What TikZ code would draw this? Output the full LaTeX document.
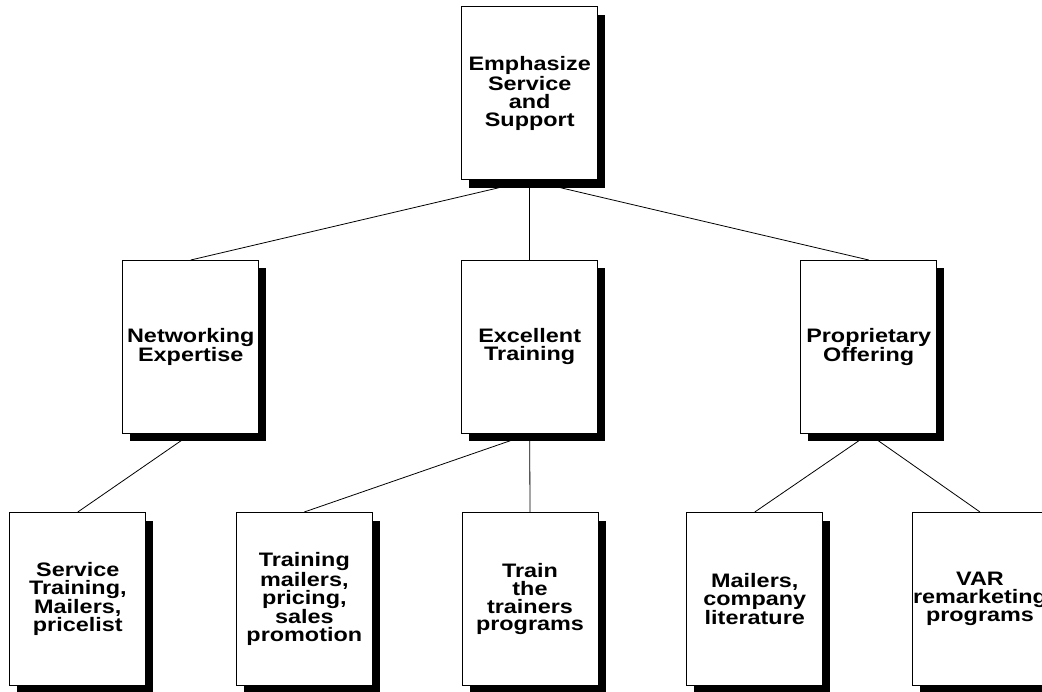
\documentclass[tikz,border=0pt]{standalone}
\usepackage{fontspec}
\newfontfamily\boxfont{Liberation Sans}[FakeStretch=1.2]
\usetikzlibrary{shadows,backgrounds}

\tikzset{
  chart/.style={draw=black, fill=white, line width=1pt,
    minimum width=136pt, minimum height=173pt, inner sep=0pt,
    align=center, font=\boxfont\bfseries\fontsize{19.5}{18}\selectfont,
    drop shadow={shadow xshift=7.5pt, shadow yshift=-8pt, fill=black, opacity=1}},
  link/.style={draw=black, line width=0.8pt}
}

\begin{document}
\begin{tikzpicture}[x=1pt, y=-1pt]

\useasboundingbox (0,0) rectangle (1042,692);

% Top box
\node[chart] (emph) at (529.7,93.5) {Emphasize\\Service\\and\\Support};

%
% Second row
%
\node[chart] (net) at (190.8,347) {Networking\\Expertise};

\node[chart] (exc) at (529.7,347) {Excellent\\Training};

\node[chart] (prop) at (868.7,347) {Proprietary\\Offering};

%
% Bottom row
%
\node[chart] (svc) at (77.8,599) {Service\\Training,\\Mailers,\\pricelist};

\node[chart] (tmail) at (304.3,599) {Training\\mailers,\\pricing,\\sales\\promotion};

\node[chart] (train) at (530,599) {Train\\the\\trainers\\programs};

\node[chart] (mail) at (754.8,599) {Mailers,\\company\\literature};

\node[chart] (var) at (980,599) {VAR\\remarketing\\programs};


% Links, under the boxes
\begin{scope}[on background layer]
\draw[link] (emph.south) -- (net.north);
\draw[link] (emph.south) -- (exc.north);
\draw[link] (emph.south) -- (prop.north);

\draw[link] (net.south) -- (svc.north);

\draw[link] (exc.south) -- (tmail.north);
\draw[link] (exc.south) -- (train.north);

\draw[link] (prop.south) -- (mail.north);
\draw[link] (prop.south) -- (var.north);
\end{scope}

\end{tikzpicture}
\end{document}
